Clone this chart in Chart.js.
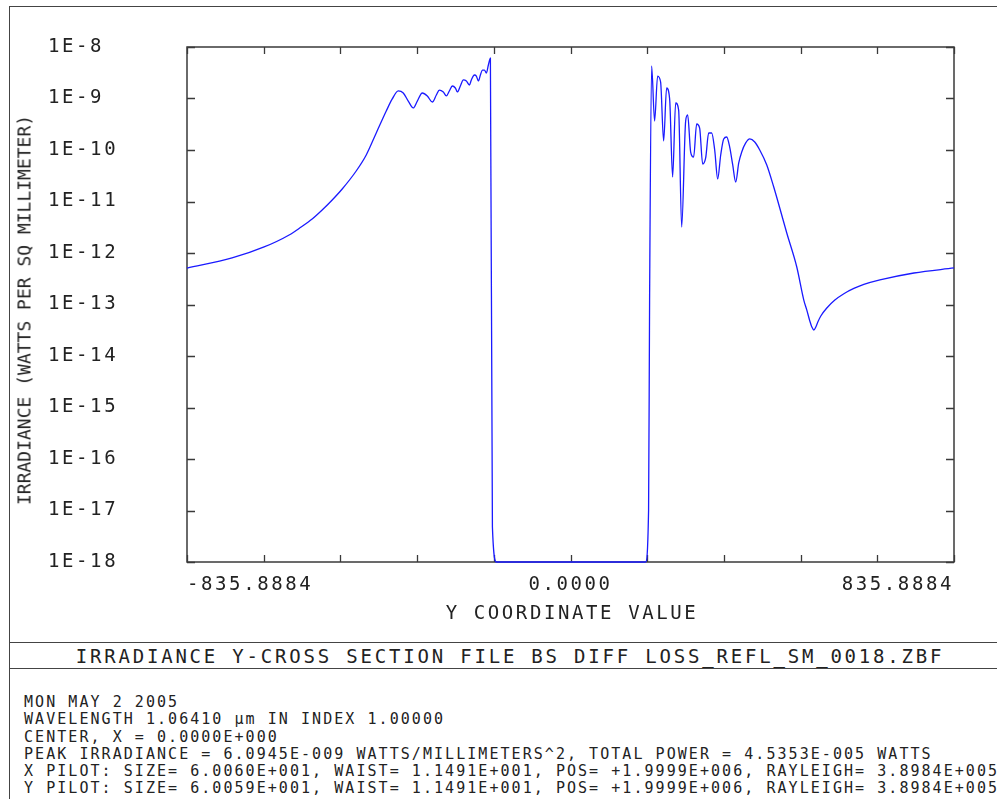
<!DOCTYPE html>
<html>
<head>
<meta charset="utf-8">
<script src="https://cdn.jsdelivr.net/npm/chart.js@4.4.1/dist/chart.umd.min.js"></script>
<style>
  body { margin: 0; background: #fff; width: 997px; height: 799px; overflow: hidden; position: relative;
         font-family: "DejaVu Sans Mono", monospace; color: #222; }
  .line { position: absolute; background: #444; }
  .txt { position: absolute; white-space: nowrap; }
  #chartBox { position: absolute; left: 10px; top: 7px; width: 987px; height: 633px; }
  #yTitle { left: 24px; top: 310px; font-size: 18px; transform: translate(-50%, -50%) rotate(-90deg); }
  #xTitle { left: 572px; top: 612px; font-size: 19px; letter-spacing: 2.6px; transform: translate(-50%, -50%); }
  #mainTitle { left: 510px; top: 656px; font-size: 19px; letter-spacing: 2.8px; transform: translate(-50%, -50%); }
  #info { left: 24px; top: 694px; font-size: 15px; letter-spacing: 2.05px; line-height: 17.3px; }
</style>
</head>
<body>
<div class="line" style="left:9px;top:6px;width:988px;height:1px"></div>
<div class="line" style="left:9px;top:6px;width:1px;height:793px"></div>
<div class="line" style="left:9px;top:642px;width:988px;height:1px"></div>
<div class="line" style="left:9px;top:668px;width:988px;height:1px"></div>

<div id="chartBox"><canvas id="chart"></canvas></div>

<div class="txt" id="yTitle">IRRADIANCE (WATTS PER SQ MILLIMETER)</div>
<div class="txt" id="xTitle">Y COORDINATE VALUE</div>
<div class="txt" id="mainTitle">IRRADIANCE Y-CROSS SECTION FILE BS DIFF LOSS_REFL_SM_0018.ZBF</div>
<div class="txt" id="info">MON MAY 2 2005<br>WAVELENGTH 1.06410 µm IN INDEX 1.00000<br>CENTER, X = 0.0000E+000<br>PEAK IRRADIANCE = 6.0945E-009 WATTS/MILLIMETERS^2, TOTAL POWER = 4.5353E-005 WATTS<br>X PILOT: SIZE= 6.0060E+001, WAIST= 1.1491E+001, POS= +1.9999E+006, RAYLEIGH= 3.8984E+005<br>Y PILOT: SIZE= 6.0059E+001, WAIST= 1.1491E+001, POS= +1.9999E+006, RAYLEIGH= 3.8984E+005</div>

<script>
// Y coordinate (mm) of each sample
const yCoordinate = [
  -835.8884, -737.7, -667.8, -613.3, -587.1, -563.1, -541.3, -519.4, -497.6, -467.1, -445.2, -423.4,
  -401.6, -388.5, -375.4, -364.5, -353.6, -342.7, -333.9, -323.0, -312.1, -301.2,
  -292.4, -285.9, -277.2, -270.6, -264.1, -257.5, -251.0, -246.6, -240.1, -233.5,
  -227.0, -220.4, -216.1, -209.5, -205.2, -200.8, -196.4, -192.1, -187.7, -183.3,
  -179.0, -174.6, -170.2, -161.5, 0,
  163.7, 170.2, 172.4, 176.8, 183.3, 189.9, 196.4, 203.0, 209.5, 216.1,
  222.6, 229.2, 235.7, 242.3, 251.0, 255.4, 261.9, 268.4, 275.0, 281.5,
  288.1, 294.6, 301.2, 307.7, 314.3, 320.8, 327.4, 333.9, 340.5, 347.0,
  353.6, 360.1, 366.7, 373.2, 381.9, 390.7, 401.6, 412.5, 427.8, 443.0,
  456.1, 471.4, 493.2, 508.5, 515.1, 521.6, 526.0, 530.3, 534.7, 539.1,
  545.6, 558.7, 576.2, 595.8, 617.6, 639.4, 674.4, 748.6, 835.8884
];

// irradiance (W/mm^2)
const irradiance = [
  5.1e-13, 8.0e-13, 1.31e-12, 2.24e-12, 3.2e-12, 4.57e-12, 6.84e-12, 1.07e-11, 1.75e-11, 3.91e-11, 8.0e-11, 2.14e-10,
  5.71e-10, 9.8e-10, 1.40e-9, 1.28e-9, 8.9e-10, 6.55e-10, 8.9e-10, 1.28e-9, 1.12e-9, 8.55e-10,
  1.17e-9, 1.46e-9, 1.34e-9, 1.12e-9, 1.40e-9, 1.75e-9, 1.60e-9, 1.34e-9, 1.75e-9, 2.29e-9,
  2.19e-9, 1.83e-9, 2.29e-9, 2.86e-9, 2.73e-9, 2.19e-9, 2.86e-9, 3.57e-9, 3.57e-9, 3.13e-9,
  4.47e-9, 6.09e-9, 4.79e-18, 1e-18, 1e-18,
  1e-18, 1.02e-17, 1.22e-13, 4.28e-9, 3.66e-10, 2.73e-9, 2.09e-9, 1.50e-10, 1.60e-9, 9.77e-10,
  2.99e-11, 8.18e-10, 5.98e-10, 3.20e-12, 3.66e-10, 4.79e-10, 9.14e-11, 7.31e-11, 3.20e-10, 2.67e-10,
  5.35e-11, 7.00e-11, 2.14e-10, 2.14e-10, 1.0e-10, 2.74e-11, 8.0e-11, 1.64e-10, 1.79e-10, 1.14e-10,
  5.12e-11, 2.39e-11, 5.60e-11, 9.14e-11, 1.37e-10, 1.64e-10, 1.43e-10, 1.0e-10, 5.12e-11, 1.91e-11,
  7.48e-12, 2.44e-12, 5.35e-13, 1.22e-13, 7.8e-14, 4.79e-14, 3.66e-14, 3.2e-14, 3.66e-14, 4.57e-14,
  5.98e-14, 8.55e-14, 1.22e-13, 1.62e-13, 2.05e-13, 2.45e-13, 3.0e-13, 4.09e-13, 5.12e-13
];

const xTickValues = [-835.8884, -668.7107, -501.5330, -334.3554, -167.1777, 0,
                     167.1777, 334.3554, 501.5330, 668.7107, 835.8884];
const xTickLabels = ['-835.8884', '', '', '', '', '0.0000', '', '', '', '', '835.8884'];
const yTickValues = [1e-18, 1e-17, 1e-16, 1e-15, 1e-14, 1e-13, 1e-12, 1e-11, 1e-10, 1e-9, 1e-8];
const yTickLabels = ['1E-18', '1E-17', '1E-16', '1E-15', '1E-14', '1E-13', '1E-12', '1E-11', '1E-10', '1E-9', '1E-8'];

const frameColor = '#3a3a3a';
const tickFont = {family: '"DejaVu Sans Mono", monospace', size: 19};

// frame + inward tick marks on all four sides
const frameTicks = {
  id: 'frameTicks',
  beforeLayout(chart) { chart.ctx.letterSpacing = '2.6px'; },
  beforeDraw(chart) { chart.ctx.letterSpacing = '2.6px'; },
  beforeDatasetsDraw(chart) {
    const {ctx, chartArea: a, scales} = chart;
    ctx.save();
    ctx.strokeStyle = frameColor;
    ctx.lineWidth = 1.5;
    ctx.strokeRect(a.left, a.top, a.right - a.left, a.bottom - a.top);
    ctx.lineWidth = 1.3;
    ctx.beginPath();
    xTickValues.forEach(v => {
      const px = Math.round(scales.x.getPixelForValue(v)) + 0.5;
      ctx.moveTo(px, a.bottom); ctx.lineTo(px, a.bottom - 7);
      ctx.moveTo(px, a.top); ctx.lineTo(px, a.top + 7);
    });
    yTickValues.forEach(v => {
      const py = Math.round(scales.y.getPixelForValue(v)) + 0.5;
      ctx.moveTo(a.left, py); ctx.lineTo(a.left + 8, py);
      ctx.moveTo(a.right, py); ctx.lineTo(a.right - 8, py);
    });
    ctx.stroke();
    ctx.restore();
  }
};

new Chart(document.getElementById('chart'), {
  type: 'line',
  data: {
    datasets: [{
      data: yCoordinate.map((x, i) => ({x: x, y: irradiance[i]})),
      borderColor: '#1a1aff',
      borderWidth: 1.3,
      pointRadius: 0,
      cubicInterpolationMode: 'monotone',
      clip: 4,
      fill: false
    }]
  },
  options: {
    responsive: true,
    maintainAspectRatio: false,
    animation: false,
    layout: {padding: {left: 38, top: 40, right: 43, bottom: 0}},
    plugins: {legend: {display: false}, tooltip: {enabled: false}},
    scales: {
      x: {
        type: 'linear',
        min: -835.8884,
        max: 835.8884,
        afterBuildTicks: scale => { scale.ticks = xTickValues.map(v => ({value: v})); },
        afterFit: scale => { scale.height = 78; },
        grid: {display: false, drawTicks: false},
        border: {display: false},
        ticks: {
          font: tickFont, color: '#222', padding: 12, align: 'inner', maxRotation: 0, autoSkip: false,
          callback: (v, i) => xTickLabels[i]
        }
      },
      y: {
        type: 'logarithmic',
        min: 1e-18,
        max: 1e-8,
        afterBuildTicks: scale => { scale.ticks = yTickValues.map(v => ({value: v})); },
        afterFit: scale => { scale.width = 139; },
        grid: {display: false, drawTicks: false},
        border: {display: false},
        ticks: {
          font: tickFont, color: '#222', crossAlign: 'far', autoSkip: false,
          callback: (v, i) => yTickLabels[i]
        }
      }
    }
  },
  plugins: [frameTicks]
});
</script>
</body>
</html>
